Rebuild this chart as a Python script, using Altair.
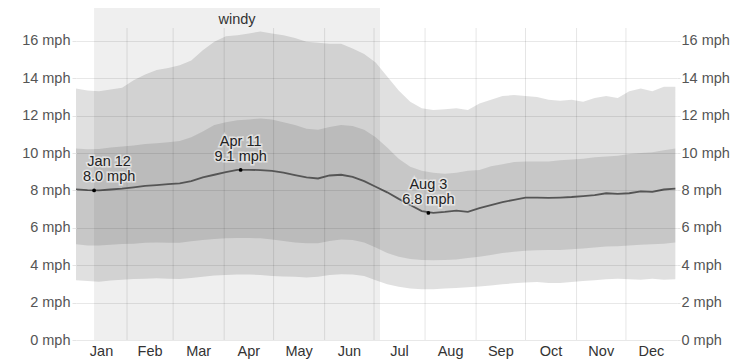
import altair as alt
import pandas as pd

# ---- data ----
dates = [
    "2023-01-01", "2023-01-08", "2023-01-15", "2023-01-22", "2023-01-29",
    "2023-02-05", "2023-02-12", "2023-02-19", "2023-02-26", "2023-03-05",
    "2023-03-12", "2023-03-19", "2023-03-26", "2023-04-02", "2023-04-09",
    "2023-04-16", "2023-04-23", "2023-04-30", "2023-05-07", "2023-05-14",
    "2023-05-21", "2023-05-28", "2023-06-04", "2023-06-11", "2023-06-18",
    "2023-06-25", "2023-07-02", "2023-07-09", "2023-07-16", "2023-07-23",
    "2023-07-30", "2023-08-06", "2023-08-13", "2023-08-20", "2023-08-27",
    "2023-09-03", "2023-09-10", "2023-09-17", "2023-09-24", "2023-10-01",
    "2023-10-08", "2023-10-15", "2023-10-22", "2023-10-29", "2023-11-05",
    "2023-11-12", "2023-11-19", "2023-11-26", "2023-12-03", "2023-12-10",
    "2023-12-17", "2023-12-24", "2023-12-31",
]
p90 = [13.45, 13.35, 13.3, 13.4, 13.5, 13.9, 14.2, 14.45, 14.55, 14.7,
       14.95, 15.5, 15.95, 16.25, 16.3, 16.4, 16.5, 16.4, 16.3, 16.15,
       15.95, 15.9, 15.85, 15.85, 15.6, 15.3, 14.85, 14.1, 13.35, 12.75,
       12.4, 12.3, 12.35, 12.4, 12.3, 12.65, 12.85, 13.05, 13.1, 13.05,
       13.0, 12.85, 12.8, 12.85, 12.75, 12.95, 13.05, 12.95, 13.3, 13.45,
       13.3, 13.55, 13.55]
p75 = [10.25, 10.2, 10.22, 10.3, 10.35, 10.4, 10.48, 10.52, 10.58, 10.65,
       10.85, 11.15, 11.5, 11.65, 11.75, 11.8, 11.85, 11.8, 11.65, 11.5,
       11.3, 11.25, 11.4, 11.5, 11.45, 11.25, 10.85, 10.3, 9.7, 9.27,
       9.05, 8.95, 8.9, 8.95, 9.05, 9.1, 9.3, 9.4, 9.52, 9.55,
       9.55, 9.55, 9.62, 9.65, 9.7, 9.78, 9.82, 9.85, 9.95, 10.0,
       10.05, 10.15, 10.25]
mean = [8.06, 8.02, 8.0, 8.05, 8.1, 8.17, 8.24, 8.29, 8.34, 8.38,
        8.5, 8.7, 8.84, 8.98, 9.1, 9.1, 9.09, 9.05, 8.95, 8.82,
        8.7, 8.64, 8.8, 8.84, 8.72, 8.5, 8.2, 7.9, 7.55, 7.22,
        6.9, 6.8, 6.85, 6.92, 6.85, 7.05, 7.22, 7.38, 7.5, 7.62,
        7.62, 7.6, 7.62, 7.65, 7.7, 7.75, 7.85, 7.82, 7.85, 7.95,
        7.92, 8.05, 8.1]
p25 = [5.12, 5.05, 5.05, 5.1, 5.13, 5.15, 5.2, 5.22, 5.2, 5.2,
       5.28, 5.35, 5.4, 5.44, 5.45, 5.45, 5.44, 5.38, 5.3, 5.22,
       5.18, 5.18, 5.3, 5.38, 5.35, 5.22, 4.95, 4.65, 4.45, 4.33,
       4.28, 4.27, 4.28, 4.3, 4.38, 4.46, 4.55, 4.65, 4.72, 4.78,
       4.8, 4.82, 4.82, 4.85, 4.9, 4.95, 5.0, 5.02, 5.05, 5.1,
       5.12, 5.15, 5.22]
p10 = [3.2, 3.15, 3.12, 3.18, 3.22, 3.26, 3.28, 3.3, 3.28, 3.26,
       3.32, 3.38, 3.45, 3.48, 3.5, 3.5, 3.48, 3.43, 3.4, 3.38,
       3.35, 3.38, 3.48, 3.52, 3.5, 3.42, 3.2, 2.98, 2.85, 2.76,
       2.72, 2.72, 2.75, 2.78, 2.82, 2.86, 2.92, 2.98, 3.03, 3.08,
       3.1, 3.05, 3.05, 3.1, 3.15, 3.2, 3.25, 3.28, 3.25, 3.22,
       3.28, 3.22, 3.25]

month_names = ["Jan", "Feb", "Mar", "Apr", "May", "Jun",
               "Jul", "Aug", "Sep", "Oct", "Nov", "Dec"]
month_starts = ["2023-01-01", "2023-02-01", "2023-03-01", "2023-04-01",
                "2023-05-01", "2023-06-01", "2023-07-01", "2023-08-01",
                "2023-09-01", "2023-10-01", "2023-11-01", "2023-12-01",
                "2024-01-01"]

ann_dates = ["2023-01-12", "2023-04-11", "2023-08-03"]
ann_values = [8.0, 9.1, 6.8]
ann_labels = ["Jan 12", "Apr 11", "Aug 3"]

windy_start = "2023-01-12"
windy_end = "2023-07-04"
windy_label = "windy"

y_ticks = [0, 2, 4, 6, 8, 10, 12, 14, 16]

# ---- helpers ----
def doy(s):
    t = pd.Timestamp(s)
    return float((t - pd.Timestamp("2023-01-01")).days)

W, H = 601, 332
FONT = "Liberation Sans"
FS = 14.5

xs = alt.Scale(domain=[0, 365], nice=False, zero=False)
ys = alt.Scale(domain=[0, 17.76], nice=False, zero=True)

df = pd.DataFrame({
    "day": [doy(d) for d in dates],
    "p90": p90, "p75": p75, "mean": mean, "p25": p25, "p10": p10,
})

left_axis = alt.Axis(
    orient="left", values=y_ticks, labelExpr="datum.value + ' mph'",
    domain=False, tickSize=4, tickColor="#e4e4e4", labelPadding=2,
    grid=True, gridColor="#000000", gridOpacity=0.09, zindex=1,
    labelFont=FONT, labelFontSize=FS, labelColor="#555555", title=None,
)
right_axis = alt.Axis(
    orient="right", values=y_ticks, labelExpr="datum.value + ' mph'",
    domain=False, tickSize=3, tickColor="#e4e4e4", labelPadding=1,
    grid=False, zindex=1,
    labelFont=FONT, labelFontSize=FS, labelColor="#555555", title=None,
)

X = alt.X("day:Q", scale=xs, axis=None)

windy_df = pd.DataFrame({"start": [doy(windy_start)],
                         "end": [doy(windy_end) + 0.6],
                         "label": [windy_label]})
windy_df["mid"] = (windy_df["start"] + windy_df["end"]) / 2

windy = alt.Chart(windy_df).mark_rect(color="#efefef").encode(
    x=alt.X("start:Q", scale=xs, axis=None), x2="end:Q",
    y=alt.value(0), y2=alt.value(H),
)
windy_text = alt.Chart(windy_df).mark_text(
    font=FONT, fontSize=FS, color="#333333", baseline="middle"
).encode(x=alt.X("mid:Q", scale=xs, axis=None), y=alt.value(12), text="label:N")

outer = alt.Chart(df).mark_area(color="#000000", opacity=0.12).encode(
    x=X, y=alt.Y("p10:Q", scale=ys, axis=left_axis), y2="p90:Q",
)
inner = alt.Chart(df).mark_area(color="#000000", opacity=0.11).encode(
    x=X, y=alt.Y("p25:Q", scale=ys, axis=right_axis), y2="p75:Q",
)
line = alt.Chart(df).mark_line(color="#555555", strokeWidth=1.8).encode(
    x=X, y=alt.Y("mean:Q", scale=ys, axis=None),
)

grid_df = pd.DataFrame({"day": [doy(d) for d in month_starts[1:-1]],
                        "top": [16.69] * 11, "bot": [0.0] * 11})
vgrid = alt.Chart(grid_df).mark_rule(color="#000000", opacity=0.1, strokeWidth=1).encode(
    x=X, y=alt.Y("top:Q", scale=ys, axis=None), y2="bot:Q",
)

mid_days = [(doy(month_starts[i]) + doy(month_starts[i + 1])) / 2 for i in range(12)]
month_df = pd.DataFrame({"day": mid_days, "name": month_names})
month_text = alt.Chart(month_df).mark_text(
    font=FONT, fontSize=FS, color="#333333", baseline="middle"
).encode(x=X, y=alt.value(H + 12), text="name:N")

ann_df = pd.DataFrame({
    "day": [doy(d) for d in ann_dates],
    "v": ann_values,
    "txt": [f"{l}\n{v:.1f} mph" for l, v in zip(ann_labels, ann_values)],
})
pts = alt.Chart(ann_df).mark_point(filled=True, color="#000000", size=14, opacity=1).encode(
    x=X, y=alt.Y("v:Q", scale=ys, axis=None),
)

dx_list = [15, 0, 0]
ann_layers = []
for i in range(len(ann_df)):
    sub = ann_df.iloc[[i]]
    base = dict(font=FONT, fontSize=FS, baseline="bottom", lineBreak="\n",
                lineHeight=15, dx=dx_list[i], dy=-21, align="center")
    halo = alt.Chart(sub).mark_text(color="#ffffff", stroke="#ffffff",
                                    strokeWidth=3, opacity=0.55, **base).encode(
        x=X, y=alt.Y("v:Q", scale=ys, axis=None), text="txt:N")
    txt = alt.Chart(sub).mark_text(color="#222222", **base).encode(
        x=X, y=alt.Y("v:Q", scale=ys, axis=None), text="txt:N")
    ann_layers += [halo, txt]

chart = alt.layer(
    windy, outer, inner, vgrid, line, pts, *ann_layers, windy_text, month_text
).resolve_axis(y="independent").resolve_scale(y="shared").properties(
    width=W, height=H,
    background="#ffffff",
    autosize=alt.AutoSizeParams(type="none"),
    padding={"left": 68, "top": 0, "right": 60, "bottom": 20},
).configure_view(stroke="transparent", strokeWidth=0)

chart.save("out.html", embed_options={"renderer": "svg", "actions": False})
